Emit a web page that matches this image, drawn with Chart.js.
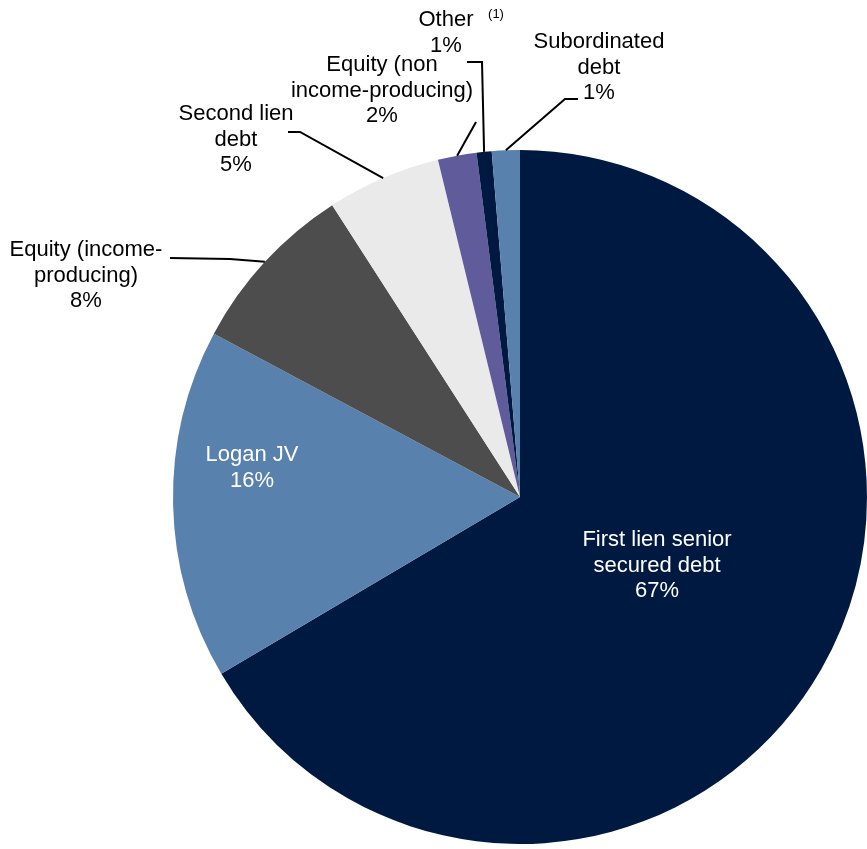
<!DOCTYPE html>
<html lang="en">
<head>
  <meta charset="UTF-8">
  <title>Portfolio Composition</title>
  <script src="https://cdn.jsdelivr.net/npm/chart.js"></script>
  <style>
    html, body { margin: 0; padding: 0; background: #fff; }
    #wrap { width: 867px; height: 849px; position: relative; }
  </style>
</head>
<body>
  <div id="wrap"><canvas id="chart"></canvas></div>

  <script>
    // slices, clockwise from 12 o'clock
    const categories = [
      'First lien senior secured debt',
      'Logan JV',
      'Equity (income-producing)',
      'Second lien debt',
      'Equity (non income-producing)',
      'Other',
      'Subordinated debt'
    ];
    const shares = [66.5, 16.3, 8.1, 5.3, 1.8, 0.7, 1.3];
    const labelLines = [
      ['First lien senior', 'secured debt'],
      ['Logan JV'],
      ['Equity (income-', 'producing)'],
      ['Second lien', 'debt'],
      ['Equity (non', 'income-producing)'],
      ['Other'],
      ['Subordinated', 'debt']
    ];
    const colors = ['#001941', '#5881AD', '#4D4D4D', '#EAEAEA', '#605B9B', '#001941', '#5881AD'];

    // where each label sits; "line" is the leader path before it meets the slice
    const labelLayout = [
      { x: 657, y: 540, color: '#fff' },
      { x: 252, y: 455, color: '#fff' },
      { x: 86, y: 250, color: '#000', line: [[170, 258], [230, 259]] },
      { x: 236, y: 114, color: '#000', line: [[288, 132], [300, 132]] },
      { x: 382, y: 65, color: '#000', line: [[476, 122]] },
      { x: 446, y: 20, color: '#000', line: [[467, 62], [482, 62]], note: '(1)' },
      { x: 599, y: 42, color: '#000', line: [[578, 99], [565, 99]] }
    ];

    const FONT = '"Liberation Sans", Arial, Helvetica, sans-serif';

    const labelPlugin = {
      id: 'pieLabels',
      afterDraw(chart) {
        const ctx = chart.ctx;
        const arcs = chart.getDatasetMeta(0).data;
        ctx.save();
        arcs.forEach((arc, i) => {
          const lay = labelLayout[i];
          const p = arc.getProps(['x', 'y', 'startAngle', 'endAngle', 'outerRadius'], true);
          const mid = (p.startAngle + p.endAngle) / 2;
          if (lay.line) {
            const ex = p.x + Math.cos(mid) * p.outerRadius;
            const ey = p.y + Math.sin(mid) * p.outerRadius;
            ctx.beginPath();
            ctx.strokeStyle = '#000';
            ctx.lineWidth = 2;
            ctx.moveTo(lay.line[0][0], lay.line[0][1]);
            lay.line.slice(1).forEach(pt => ctx.lineTo(pt[0], pt[1]));
            ctx.lineTo(ex, ey);
            ctx.stroke();
          }
          const lines = labelLines[i].concat([Math.round(shares[i]) + '%']);
          ctx.fillStyle = lay.color;
          ctx.font = '22px ' + FONT;
          ctx.textAlign = 'center';
          ctx.textBaseline = 'middle';
          lines.forEach((t, k) => ctx.fillText(t, lay.x, lay.y + k * 25.5));
          if (lay.note) {
            ctx.font = '13px ' + FONT;
            ctx.fillText(lay.note, 496, 14);
          }
        });
        ctx.restore();
      }
    };

    new Chart(document.getElementById('chart'), {
      type: 'pie',
      data: {
        labels: categories,
        datasets: [{
          data: shares,
          backgroundColor: colors,
          borderWidth: 0,
          hoverOffset: 0
        }]
      },
      options: {
        responsive: true,
        maintainAspectRatio: false,
        animation: false,
        layout: { padding: { left: 173, right: 0, top: 150, bottom: 5 } },
        plugins: {
          legend: { display: false },
          tooltip: { enabled: false }
        }
      },
      plugins: [labelPlugin]
    });
  </script>
</body>
</html>
